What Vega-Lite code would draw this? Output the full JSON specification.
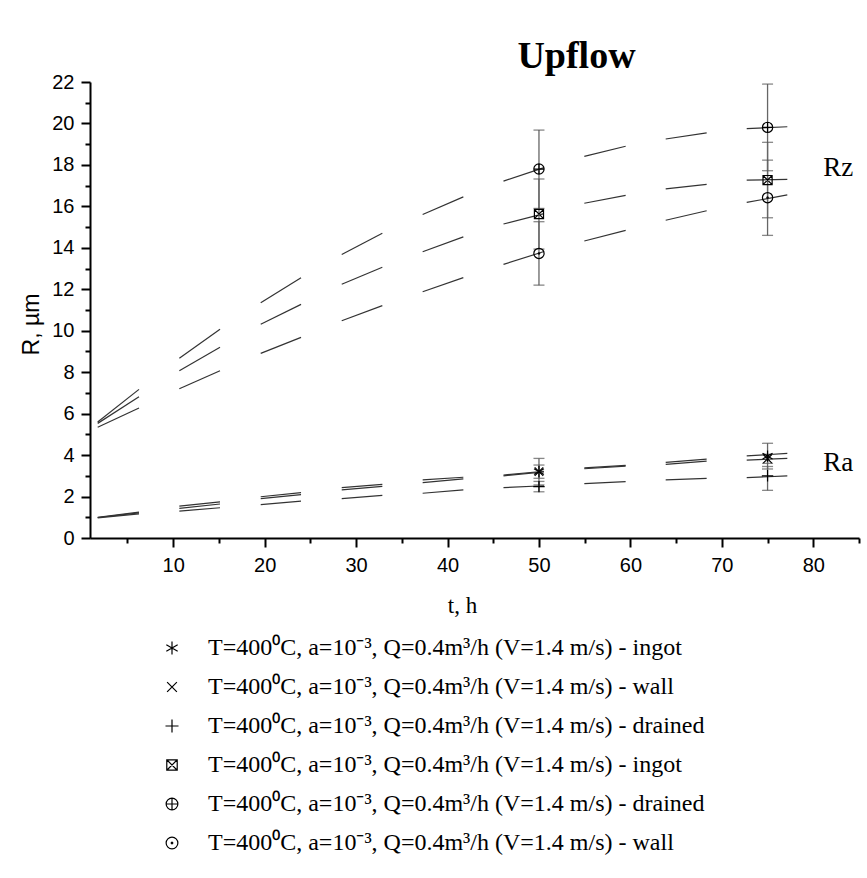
{
  "$schema": "https://vega.github.io/schema/vega-lite/v6.json",
  "autosize": "none",
  "width": 769,
  "height": 456,
  "padding": {"left": 90, "top": 82, "right": 8, "bottom": 340},
  "background": "white",
  "title": {"text": "Upflow", "font": "Liberation Serif", "fontSize": 38, "fontWeight": "bold", "color": "black", "anchor": "middle", "dx": 102, "dy": 48, "offset": 14, "frame": "group", "baseline": "alphabetic"},
  "config": {
    "view": {"stroke": null},
    "axis": {"labelFont": "Liberation Sans", "labelFontSize": 20, "labelColor": "black", "domainColor": "black", "domainWidth": 2, "tickColor": "black", "tickWidth": 2, "tickSize": 9, "labelPadding": 7, "grid": false}
  },
  "datasets": {
    "lines": [
      {"s":"Rz drained","seg":1,"t":1.74,"v":5.60},{"s":"Rz drained","seg":1,"t":6.26,"v":7.17},
      {"s":"Rz drained","seg":2,"t":10.67,"v":8.67},{"s":"Rz drained","seg":2,"t":15.12,"v":10.07},
      {"s":"Rz drained","seg":3,"t":19.57,"v":11.35},{"s":"Rz drained","seg":3,"t":23.98,"v":12.56},
      {"s":"Rz drained","seg":4,"t":28.43,"v":13.68},{"s":"Rz drained","seg":4,"t":32.87,"v":14.70},
      {"s":"Rz drained","seg":5,"t":37.28,"v":15.61},{"s":"Rz drained","seg":5,"t":41.73,"v":16.46},
      {"s":"Rz drained","seg":6,"t":46.12,"v":17.22},{"s":"Rz drained","seg":6,"t":50.55,"v":17.87},
      {"s":"Rz drained","seg":7,"t":54.96,"v":18.41},{"s":"Rz drained","seg":7,"t":59.48,"v":18.90},
      {"s":"Rz drained","seg":8,"t":63.86,"v":19.25},{"s":"Rz drained","seg":8,"t":68.34,"v":19.55},
      {"s":"Rz drained","seg":9,"t":72.72,"v":19.75},{"s":"Rz drained","seg":9,"t":77.16,"v":19.84},
      {"s":"Rz ingot","seg":1,"t":1.74,"v":5.53},{"s":"Rz ingot","seg":1,"t":6.26,"v":6.82},
      {"s":"Rz ingot","seg":2,"t":10.67,"v":8.07},{"s":"Rz ingot","seg":2,"t":15.12,"v":9.20},
      {"s":"Rz ingot","seg":3,"t":19.57,"v":10.31},{"s":"Rz ingot","seg":3,"t":23.98,"v":11.27},
      {"s":"Rz ingot","seg":4,"t":28.43,"v":12.24},{"s":"Rz ingot","seg":4,"t":32.87,"v":13.06},
      {"s":"Rz ingot","seg":5,"t":37.28,"v":13.81},{"s":"Rz ingot","seg":5,"t":41.73,"v":14.53},
      {"s":"Rz ingot","seg":6,"t":46.12,"v":15.15},{"s":"Rz ingot","seg":6,"t":50.55,"v":15.65},
      {"s":"Rz ingot","seg":7,"t":54.96,"v":16.15},{"s":"Rz ingot","seg":7,"t":59.48,"v":16.53},
      {"s":"Rz ingot","seg":8,"t":63.86,"v":16.84},{"s":"Rz ingot","seg":8,"t":68.34,"v":17.06},
      {"s":"Rz ingot","seg":9,"t":72.72,"v":17.27},{"s":"Rz ingot","seg":9,"t":77.16,"v":17.30},
      {"s":"Rz wall","seg":1,"t":1.74,"v":5.34},{"s":"Rz wall","seg":1,"t":6.26,"v":6.27},
      {"s":"Rz wall","seg":2,"t":10.67,"v":7.20},{"s":"Rz wall","seg":2,"t":15.12,"v":8.07},
      {"s":"Rz wall","seg":3,"t":19.57,"v":8.91},{"s":"Rz wall","seg":3,"t":23.98,"v":9.68},
      {"s":"Rz wall","seg":4,"t":28.43,"v":10.48},{"s":"Rz wall","seg":4,"t":32.87,"v":11.21},
      {"s":"Rz wall","seg":5,"t":37.28,"v":11.88},{"s":"Rz wall","seg":5,"t":41.73,"v":12.56},
      {"s":"Rz wall","seg":6,"t":46.12,"v":13.20},{"s":"Rz wall","seg":6,"t":50.55,"v":13.82},
      {"s":"Rz wall","seg":7,"t":54.96,"v":14.33},{"s":"Rz wall","seg":7,"t":59.48,"v":14.84},
      {"s":"Rz wall","seg":8,"t":63.86,"v":15.33},{"s":"Rz wall","seg":8,"t":68.34,"v":15.79},
      {"s":"Rz wall","seg":9,"t":72.72,"v":16.19},{"s":"Rz wall","seg":9,"t":77.16,"v":16.55},
      {"s":"Ra ingot","seg":1,"t":1.74,"v":1.00},{"s":"Ra ingot","seg":1,"t":6.26,"v":1.25},
      {"s":"Ra ingot","seg":2,"t":10.67,"v":1.54},{"s":"Ra ingot","seg":2,"t":15.12,"v":1.74},
      {"s":"Ra ingot","seg":3,"t":19.57,"v":1.99},{"s":"Ra ingot","seg":3,"t":23.98,"v":2.19},
      {"s":"Ra ingot","seg":4,"t":28.43,"v":2.43},{"s":"Ra ingot","seg":4,"t":32.87,"v":2.59},
      {"s":"Ra ingot","seg":5,"t":37.28,"v":2.80},{"s":"Ra ingot","seg":5,"t":41.73,"v":2.93},
      {"s":"Ra ingot","seg":6,"t":46.12,"v":3.04},{"s":"Ra ingot","seg":6,"t":50.55,"v":3.22},
      {"s":"Ra ingot","seg":7,"t":54.96,"v":3.38},{"s":"Ra ingot","seg":7,"t":59.48,"v":3.50},
      {"s":"Ra ingot","seg":8,"t":63.86,"v":3.65},{"s":"Ra ingot","seg":8,"t":68.34,"v":3.81},
      {"s":"Ra ingot","seg":9,"t":72.72,"v":3.96},{"s":"Ra ingot","seg":9,"t":77.16,"v":4.08},
      {"s":"Ra wall","seg":1,"t":1.74,"v":0.99},{"s":"Ra wall","seg":1,"t":6.26,"v":1.21},
      {"s":"Ra wall","seg":2,"t":10.67,"v":1.43},{"s":"Ra wall","seg":2,"t":15.12,"v":1.64},
      {"s":"Ra wall","seg":3,"t":19.57,"v":1.90},{"s":"Ra wall","seg":3,"t":23.98,"v":2.09},
      {"s":"Ra wall","seg":4,"t":28.43,"v":2.32},{"s":"Ra wall","seg":4,"t":32.87,"v":2.49},
      {"s":"Ra wall","seg":5,"t":37.28,"v":2.67},{"s":"Ra wall","seg":5,"t":41.73,"v":2.85},
      {"s":"Ra wall","seg":6,"t":46.12,"v":3.00},{"s":"Ra wall","seg":6,"t":50.55,"v":3.19},
      {"s":"Ra wall","seg":7,"t":54.96,"v":3.34},{"s":"Ra wall","seg":7,"t":59.48,"v":3.47},
      {"s":"Ra wall","seg":8,"t":63.86,"v":3.55},{"s":"Ra wall","seg":8,"t":68.34,"v":3.71},
      {"s":"Ra wall","seg":9,"t":72.72,"v":3.76},{"s":"Ra wall","seg":9,"t":77.16,"v":3.84},
      {"s":"Ra drained","seg":1,"t":1.74,"v":0.97},{"s":"Ra drained","seg":1,"t":6.26,"v":1.16},
      {"s":"Ra drained","seg":2,"t":10.67,"v":1.30},{"s":"Ra drained","seg":2,"t":15.12,"v":1.46},
      {"s":"Ra drained","seg":3,"t":19.57,"v":1.61},{"s":"Ra drained","seg":3,"t":23.98,"v":1.78},
      {"s":"Ra drained","seg":4,"t":28.43,"v":1.90},{"s":"Ra drained","seg":4,"t":32.87,"v":2.06},
      {"s":"Ra drained","seg":5,"t":37.28,"v":2.16},{"s":"Ra drained","seg":5,"t":41.73,"v":2.32},
      {"s":"Ra drained","seg":6,"t":46.12,"v":2.43},{"s":"Ra drained","seg":6,"t":50.55,"v":2.52},
      {"s":"Ra drained","seg":7,"t":54.96,"v":2.62},{"s":"Ra drained","seg":7,"t":59.48,"v":2.72},
      {"s":"Ra drained","seg":8,"t":63.86,"v":2.80},{"s":"Ra drained","seg":8,"t":68.34,"v":2.88},
      {"s":"Ra drained","seg":9,"t":72.72,"v":2.91},{"s":"Ra drained","seg":9,"t":77.16,"v":3.00}
    ],
    "points": [
      {"s":"Rz drained","t":50,"v":17.8,"lo":15.9,"hi":19.68},
      {"s":"Rz drained","t":75,"v":19.81,"lo":17.72,"hi":21.9},
      {"s":"Rz ingot","t":50,"v":15.63,"lo":13.94,"hi":17.32},
      {"s":"Rz ingot","t":75,"v":17.27,"lo":15.45,"hi":19.09},
      {"s":"Rz wall","t":50,"v":13.73,"lo":12.2,"hi":15.26},
      {"s":"Rz wall","t":75,"v":16.42,"lo":14.6,"hi":18.23},
      {"s":"Ra ingot","t":50,"v":3.2,"lo":2.56,"hi":3.84},
      {"s":"Ra ingot","t":75,"v":3.95,"lo":3.33,"hi":4.57},
      {"s":"Ra wall","t":50,"v":3.2,"lo":2.88,"hi":3.52},
      {"s":"Ra wall","t":75,"v":3.82,"lo":3.6,"hi":4.04},
      {"s":"Ra drained","t":50,"v":2.48,"lo":2.23,"hi":2.73},
      {"s":"Ra drained","t":75,"v":3.0,"lo":2.3,"hi":3.45}
    ],
    "labels": [
      {"t":81.1,"v":17.85,"label":"Rz"},
      {"t":81.1,"v":3.62,"label":"Ra"}
    ]
  },
  "resolve": {"axis": {"x": "independent", "y": "independent"}},
  "layer": [
    {
      "data": {"name": "lines"},
      "mark": {"type": "line", "color": "#333333", "strokeWidth": 1.2},
      "encoding": {
        "x": {"field": "t", "type": "quantitative", "scale": {"domain": [0.9, 85], "nice": false, "zero": false},
              "axis": {"orient": "bottom", "values": [10,20,30,40,50,60,70,80], "title": "t, h", "titleFont": "Liberation Serif", "titleFontSize": 23, "titleFontWeight": "normal", "titleColor": "black", "titleX": 372, "titleY": 67, "titleBaseline": "middle", "titleAlign": "center", "labelPadding": 8}},
        "y": {"field": "v", "type": "quantitative", "scale": {"domain": [0, 22], "nice": false},
              "axis": {"orient": "left", "values": [0,2,4,6,8,10,12,14,16,18,20,22], "title": "R, µm", "titleFont": "Liberation Sans", "titleFontSize": 23, "titleFontWeight": "normal", "titleColor": "black", "titleX": -59, "titleY": 242, "titleAngle": 270, "titleBaseline": "middle", "titleAlign": "center"}},
        "detail": [{"field": "s"}, {"field": "seg"}]
      }
    },
    {
      "data": {"name": "points"},
      "mark": {"type": "rule", "color": "#666666", "strokeWidth": 1.3},
      "encoding": {
        "x": {"field": "t", "type": "quantitative", "axis": null},
        "y": {"field": "lo", "type": "quantitative", "axis": null},
        "y2": {"field": "hi"}
      }
    },
    {
      "data": {"name": "points"},
      "mark": {"type": "tick", "orient": "horizontal", "size": 11, "thickness": 1.3, "color": "#555555"},
      "encoding": {
        "x": {"field": "t", "type": "quantitative", "axis": null},
        "y": {"field": "lo", "type": "quantitative", "axis": null}
      }
    },
    {
      "data": {"name": "points"},
      "mark": {"type": "tick", "orient": "horizontal", "size": 11, "thickness": 1.3, "color": "#555555"},
      "encoding": {
        "x": {"field": "t", "type": "quantitative", "axis": null},
        "y": {"field": "hi", "type": "quantitative", "axis": null}
      }
    },
    {
      "data": {"name": "points"},
      "mark": {"type": "point", "filled": false, "color": "black", "strokeWidth": 1.2, "size": 130, "opacity": 1},
      "encoding": {
        "x": {"field": "t", "type": "quantitative", "axis": null},
        "y": {"field": "v", "type": "quantitative", "axis": null},
        "shape": {"field": "s", "type": "nominal",
          "scale": {"domain": ["Ra ingot", "Ra wall", "Ra drained", "Rz ingot", "Rz drained", "Rz wall"],
                    "range": ["M0,-1L0,1M-0.87,-0.5L0.87,0.5M-0.87,0.5L0.87,-0.5",
                              "M-0.75,-0.75L0.75,0.75M-0.75,0.75L0.75,-0.75",
                              "M-1,0L1,0M0,-1L0,1",
                              "M-0.8,-0.8L0.8,-0.8L0.8,0.8L-0.8,0.8ZM-0.8,-0.8L0.8,0.8M-0.8,0.8L0.8,-0.8",
                              "M-0.9,0A0.9,0.9 0 1,0 0.9,0A0.9,0.9 0 1,0 -0.9,0M-0.9,0L0.9,0M0,-0.9L0,0.9",
                              "M-0.9,0A0.9,0.9 0 1,0 0.9,0A0.9,0.9 0 1,0 -0.9,0M-0.12,0A0.12,0.12 0 1,0 0.12,0A0.12,0.12 0 1,0 -0.12,0"]},
          "legend": {"orient": "none", "legendX": 70, "legendY": 554, "title": null, "padding": 0, "offset": 0,
                     "labelFont": "Liberation Serif", "labelFontSize": 24, "labelColor": "black", "labelLimit": 900, "labelOffset": 24,
                     "symbolSize": 170, "symbolStrokeWidth": 1.2, "rowPadding": 15,
                     "labelExpr": "'T=400⁰C, a=10⁻³, Q=0.4m³/h (V=1.4 m/s) - ' + split(datum.label, ' ')[1]"}}
      }
    },
    {
      "data": {"name": "labels"},
      "mark": {"type": "text", "font": "Liberation Serif", "fontSize": 27, "align": "left", "baseline": "middle", "color": "black"},
      "encoding": {
        "x": {"field": "t", "type": "quantitative", "axis": {"orient": "bottom", "values": [5,15,25,35,45,55,65,75,85], "labels": false, "tickSize": 5, "domain": false, "title": null}},
        "y": {"field": "v", "type": "quantitative", "axis": {"orient": "left", "values": [1,3,5,7,9,11,13,15,17,19,21], "labels": false, "tickSize": 5, "domain": false, "title": null}},
        "text": {"field": "label"}
      }
    }
  ]
}
